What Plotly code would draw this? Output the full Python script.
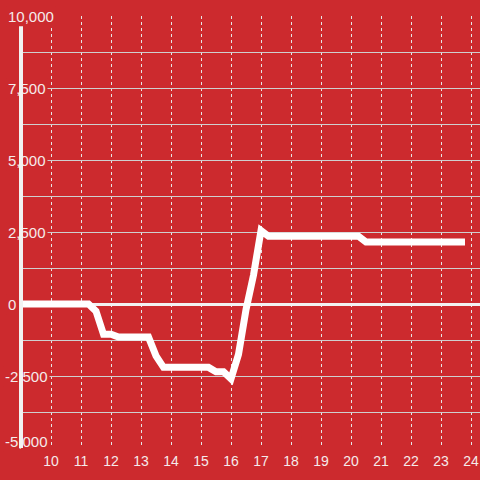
"""Intraday P&L line on a red panel."""

import plotly.graph_objects as go

# hour of day -> running P&L
hours = [9.0, 11.25, 11.5, 11.75, 12.0, 12.25, 13.25, 13.5, 13.75, 15.25, 15.5,
         15.75, 16.0, 16.25, 16.5, 16.75, 17.0, 17.25, 20.25, 20.5, 23.8]
pnl = [0, 0, -250, -1050, -1050, -1150, -1150, -1800, -2200, -2200, -2350,
       -2350, -2600, -1750, -200, 1000, 2550, 2350, 2350, 2150, 2150]

x_ticks = list(range(10, 25))
y_ticks = [-5000, -2500, 0, 2500, 5000, 7500, 10000]

BG = "#cc2a2e"
TEXT = "#f5ebeb"
FONT = "Liberation Sans"
Y_MIN, Y_MAX = -5000, 10000
X_MIN, X_MAX = 9, 24.3

fig = go.Figure()

fig.add_trace(
    go.Scatter(
        x=hours,
        y=pnl,
        mode="lines",
        line=dict(color="#ffffff", width=7),
        hoverinfo="skip",
    )
)

# y tick labels: red box behind so the grid lines stop short of them
for v in y_ticks:
    fig.add_annotation(
        x=-15 / 459,
        xref="paper",
        y=v,
        yref="y",
        text=f"{v:,}",
        showarrow=False,
        xanchor="left",
        yanchor="middle",
        xshift=-3 if v < 0 else 0,
        yshift=7 if v == Y_MIN else 0,  # bottom label lifted clear of the x labels
        bgcolor=BG,
        borderpad=1,
        font=dict(size=15, color=TEXT, family=FONT),
    )

# thick y axis bar drawn over the label boxes
fig.add_annotation(
    x=X_MIN, xref="x", y=Y_MIN, yref="y",
    ax=X_MIN, axref="x", ay=Y_MAX - 300, ayref="y",
    text="", showarrow=True, arrowhead=0, arrowwidth=4,
    arrowcolor="#f2f2f2", standoff=0, startstandoff=0,
)

fig.update_layout(
    width=480,
    height=480,
    margin=dict(l=21, r=0, t=16, b=32),
    paper_bgcolor=BG,
    plot_bgcolor=BG,
    showlegend=False,
    font=dict(family=FONT, size=14, color=TEXT),
)

fig.update_xaxes(
    range=[X_MIN, X_MAX],
    tickvals=x_ticks,
    showgrid=True,
    gridcolor="#e6e6e6",
    griddash="dot",
    gridwidth=1,
    zeroline=False,
    showline=False,
    ticks="",
    ticklabelstandoff=3,
    tickfont=dict(size=14, color=TEXT, family=FONT),
)

fig.update_yaxes(
    range=[Y_MIN, Y_MAX],
    dtick=1250,
    showticklabels=False,
    showgrid=True,
    gridcolor="#cfcfcf",
    gridwidth=1,
    zeroline=True,
    zerolinecolor="#f2f2f2",
    zerolinewidth=3,
    showline=False,
    ticks="",
)

fig.write_html(
    "out.html",
    config={"displayModeBar": False},
    post_script="document.body.style.margin='0';",
)
